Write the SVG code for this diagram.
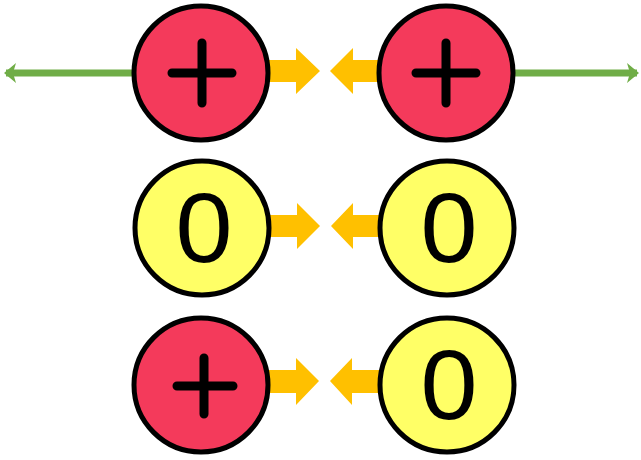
<svg xmlns="http://www.w3.org/2000/svg" width="641" height="460" viewBox="0 0 641 460">
<style>
.pos{fill:#F43A5B;stroke:#000;stroke-width:5}
.neu{fill:#FFFF66;stroke:#000;stroke-width:5}
.plus{stroke:#000;stroke-width:9;stroke-linecap:round;fill:none}
.zero{font-family:"Liberation Sans",Arial,sans-serif;font-size:98px;fill:#000;text-anchor:middle}
.push{fill:#FFC000}
.pull{stroke:#70AD47;stroke-width:7;fill:none}
</style>
<defs>
<marker id="gh" viewBox="0 0 12 20" refX="10" refY="10" markerWidth="12" markerHeight="20" markerUnits="userSpaceOnUse" orient="auto">
<path d="M0,0 L12,10 L0,20 L3,10 Z" fill="#70AD47"/>
</marker>
</defs>
<g id="connectors">
<line class="pull" x1="132" y1="73" x2="6" y2="73" marker-end="url(#gh)"/>
<line class="pull" x1="514" y1="73" x2="637" y2="73" marker-end="url(#gh)"/>
<path class="push" d="M268,60 H296 V48 L320,71 L296,94 V82 H268 Z"/>
<path class="push" d="M380,60 H353 V48 L330,71 L353,94 V82 H380 Z"/>
<path class="push" d="M268,215 H297 V203 L320,226 L297,249 V237 H268 Z"/>
<path class="push" d="M380,215 H353 V203 L331,226 L353,249 V237 H380 Z"/>
<path class="push" d="M268,370 H296 V358 L319,381 L296,405 V393 H268 Z"/>
<path class="push" d="M380,370 H352 V358 L330,381 L352,405 V393 H380 Z"/>
</g>
<g id="n1"><circle class="pos" cx="201" cy="73" r="67"/><path class="plus" d="M172,73 H232 M202,43 V103"/></g>
<g id="n2"><circle class="pos" cx="446" cy="73" r="67"/><path class="plus" d="M416,73 H476 M446,43 V103"/></g>
<g id="n3"><circle class="neu" cx="202" cy="228" r="67"/><text class="zero" x="204" y="262" textLength="57" lengthAdjust="spacingAndGlyphs">0</text></g>
<g id="n4"><circle class="neu" cx="447" cy="228" r="67"/><text class="zero" x="449" y="262" textLength="57" lengthAdjust="spacingAndGlyphs">0</text></g>
<g id="n5"><circle class="pos" cx="201" cy="385" r="67"/><path class="plus" d="M177,386 H233 M204,358 V414"/></g>
<g id="n6"><circle class="neu" cx="447" cy="385" r="67"/><text class="zero" x="449" y="419" textLength="57" lengthAdjust="spacingAndGlyphs">0</text></g>
</svg>
